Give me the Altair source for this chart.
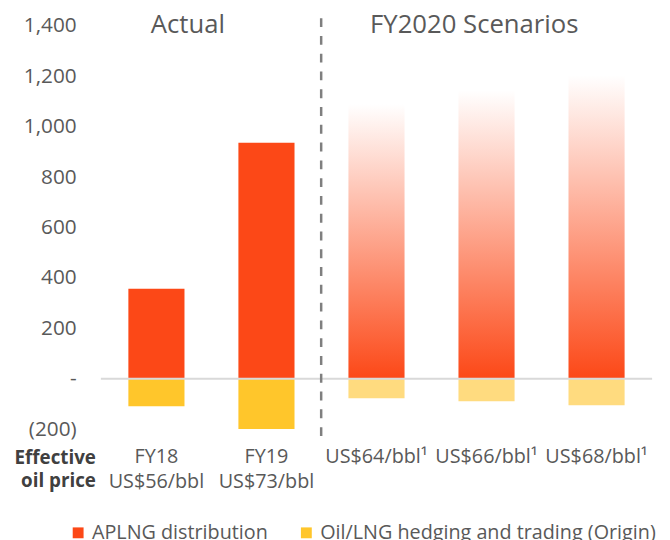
import altair as alt
import pandas as pd

# ---- data ----
categories = ["FY18|US$56/bbl", "FY19|US$73/bbl", "US$64/bbl¹", "US$66/bbl¹", "US$68/bbl¹"]
actual_cats = ["FY18|US$56/bbl", "FY19|US$73/bbl"]
actual_aplng = [357, 937]
actual_hedging = [-109, -200]
scenario_cats = ["US$64/bbl¹", "US$66/bbl¹", "US$68/bbl¹"]
scenario_aplng = [1090, 1145, 1205]
scenario_hedging = [-78, -89, -105]
series = ["APLNG distribution", "Oil/LNG hedging and trading (Origin)"]
y_ticks = [-200, 0, 200, 400, 600, 800, 1000, 1200, 1400]

FONT = "Open Sans"
GREY = "#595959"
ORANGE = "#FC4817"
YELLOW = "#FFC62B"
LIGHT_YELLOW = "#FFDB7F"

actual_df = pd.DataFrame({
    "cat": actual_cats * 2,
    "series": [series[0]] * 2 + [series[1]] * 2,
    "value": actual_aplng + actual_hedging,
})
scen_pos = pd.DataFrame({"cat": scenario_cats, "value": scenario_aplng})
scen_neg = pd.DataFrame({"cat": scenario_cats, "value": scenario_hedging})

x_enc = alt.X(
    "cat:N",
    sort=categories,
    scale=alt.Scale(domain=categories, paddingInner=0.49, paddingOuter=0.25),
    axis=alt.Axis(
        title=None, domain=False, ticks=False, labelAngle=0,
        labelExpr="split(datum.label, '|')",
        labelFontSize=20, labelColor=GREY, labelFont=FONT,
        labelPadding=18, labelLineHeight=25,
    ),
)
y_label_expr = ("datum.value == 0 ? '-' : (datum.value < 0 ? '(' + format(-datum.value, ',') + ')' "
                ": format(datum.value, ','))")
y_enc = alt.Y(
    "value:Q",
    stack=None,
    scale=alt.Scale(domain=[-200, 1400], nice=False),
    axis=alt.Axis(
        title=None, domain=False, ticks=False, grid=False, values=y_ticks,
        labelExpr=y_label_expr, labelFontSize=21, labelColor=GREY,
        labelFont=FONT, labelPadding=25,
    ),
)

actual_bars = alt.Chart(actual_df).mark_bar().encode(
    x=x_enc,
    y=y_enc,
    color=alt.Color(
        "series:N",
        scale=alt.Scale(domain=series, range=[ORANGE, YELLOW]),
        legend=alt.Legend(
            title=None, orient="none", legendX=-33, legendY=503,
            direction="horizontal", symbolType="square", symbolSize=121,
            symbolStrokeWidth=0, labelFontSize=20, labelColor=GREY,
            labelFont=FONT, labelLimit=500, columnPadding=28, labelOffset=4,
        ),
    ),
)

gradient = alt.Gradient(
    gradient="linear",
    stops=[alt.GradientStop(color=ORANGE, offset=0),
           alt.GradientStop(color="#FFFFFF", offset=1)],
    x1=1, x2=1, y1=1, y2=0,
)
scen_pos_bars = alt.Chart(scen_pos).mark_bar(color=gradient).encode(x=x_enc, y=y_enc)
scen_neg_bars = alt.Chart(scen_neg).mark_bar(color=LIGHT_YELLOW).encode(x=x_enc, y=y_enc)

zero_line = alt.Chart(pd.DataFrame({"v": [0]})).mark_rule(color="#D9D9D9", strokeWidth=2).encode(
    y=alt.Y("v:Q")
)

separator = alt.Chart(pd.DataFrame({"v": [0]})).mark_rule(
    color="#7F7F7F", strokeWidth=2.5, strokeDash=[9, 9]
).encode(x=alt.value(223), y=alt.value(-8), y2=alt.value(417))

title_actual = alt.Chart(pd.DataFrame({"v": [0]})).mark_text(
    text="Actual", fontSize=26, color=GREY, font=FONT, align="center", baseline="middle"
).encode(x=alt.value(88), y=alt.value(-1))
title_scen = alt.Chart(pd.DataFrame({"v": [0]})).mark_text(
    text="FY2020 Scenarios", fontSize=26, color=GREY, font=FONT, align="center", baseline="middle"
).encode(x=alt.value(378), y=alt.value(-1))

eff_label = alt.Chart(pd.DataFrame({"v": [0]})).mark_text(
    text=["Effective", "oil price"], fontSize=19, fontWeight="bold", color="#404040",
    font=FONT, align="right", baseline="top", lineHeight=24,
).encode(x=alt.value(-5), y=alt.value(428))

chart = alt.layer(
    scen_pos_bars, scen_neg_bars, actual_bars, zero_line, separator,
    title_actual, title_scen, eff_label,
).properties(
    width=558, height=408,
    autosize=alt.AutoSizeParams(type="none"),
    padding={"left": 94, "top": 15, "right": 10, "bottom": 109},
).configure_view(stroke=None)

chart.save("out.html", embed_options={"renderer": "svg", "actions": False})
